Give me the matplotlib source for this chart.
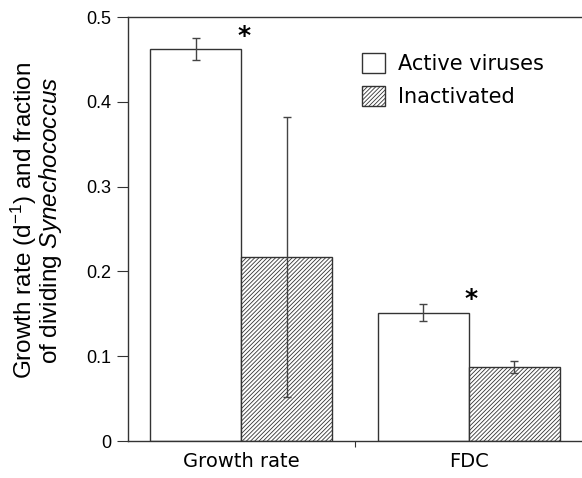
import numpy as np
import matplotlib
matplotlib.use('Agg')
import matplotlib.pyplot as plt
from matplotlib.patches import Patch

# Значения
categories = ['Growth rate', 'FDC']
active = [0.462, 0.151]
active_err = [0.013, 0.010]
inactivated = [0.217, 0.087]
inactivated_err = [0.165, 0.007]
significant = [True, True]

plt.rcParams['hatch.linewidth'] = 0.6
plt.rcParams['hatch.color'] = '#555555'
plt.rcParams['mathtext.fontset'] = 'custom'
plt.rcParams['mathtext.rm'] = 'Liberation Sans'
plt.rcParams['mathtext.it'] = 'Liberation Sans:italic'

fig = plt.figure(figsize=(5.82, 4.78), dpi=100)
ax = fig.add_axes([0.22, 0.0774, 0.78, 0.887])

x = np.array([0.0, 2.5])
w = 1.0
edge = '#333333'
hatch = '////////'

ax.bar(x - w / 2, active, w, color='white', edgecolor=edge, linewidth=1.0)
ax.bar(x + w / 2, inactivated, w, color='white', edgecolor=edge, linewidth=1.0,
       hatch=hatch)
ax.errorbar(x - w / 2, active, yerr=active_err, fmt='none', ecolor='#444444',
            elinewidth=1.0, capsize=3, capthick=1.0)
ax.errorbar(x + w / 2, inactivated, yerr=inactivated_err, fmt='none',
            ecolor='#444444', elinewidth=1.0, capsize=3, capthick=1.0)

# звездочки значимости
for xi, v, e, s in zip(x, active, active_err, significant):
    if s:
        ax.text(xi + 0.03, v + 0.016, '*', ha='center', va='center',
                fontsize=18, fontweight='bold', fontfamily='DejaVu Sans',
                clip_on=False)

ax.set_xlim(-1.242, 3.747)
ax.set_ylim(0, 0.5)
ax.set_yticks([0, 0.1, 0.2, 0.3, 0.4, 0.5])
ax.set_yticklabels(['0', '0.1', '0.2', '0.3', '0.4', '0.5'],
                   fontfamily='Liberation Sans', fontsize=13)
ax.set_xticks([1.25])
ax.set_xticklabels([''])
ax.set_xticks(x, minor=True)
ax.set_xticklabels(categories, minor=True, fontfamily='DejaVu Sans', fontsize=14)
ax.tick_params(axis='x', which='minor', length=0, pad=8)
ax.tick_params(axis='x', which='major', length=4, direction='out', color=edge)
ax.tick_params(axis='y', length=8, direction='out', color=edge, pad=4)

for s in ['right']:
    ax.spines[s].set_visible(False)
for s in ['left', 'bottom', 'top']:
    ax.spines[s].set_color(edge)
    ax.spines[s].set_linewidth(1.0)

ax.set_ylabel('Growth rate (d$^{-1}$) and fraction\nof dividing $\\it{Synechococcus}$',
              fontfamily='Liberation Sans', fontsize=17.5,
              linespacing=0.9)
ax.yaxis.set_label_coords(-0.142, 0.52)

handles = [Patch(facecolor='white', edgecolor=edge, label='Active viruses'),
           Patch(facecolor='white', edgecolor=edge, hatch=hatch, label='Inactivated')]
ax.legend(handles=handles, loc='upper left', bbox_to_anchor=(0.475, 0.96),
          frameon=False, prop={'family': 'DejaVu Sans', 'size': 15},
          handlelength=1.1, handleheight=1.1, handletextpad=0.6, labelspacing=0.6)

fig.savefig('out.png', dpi=100)
